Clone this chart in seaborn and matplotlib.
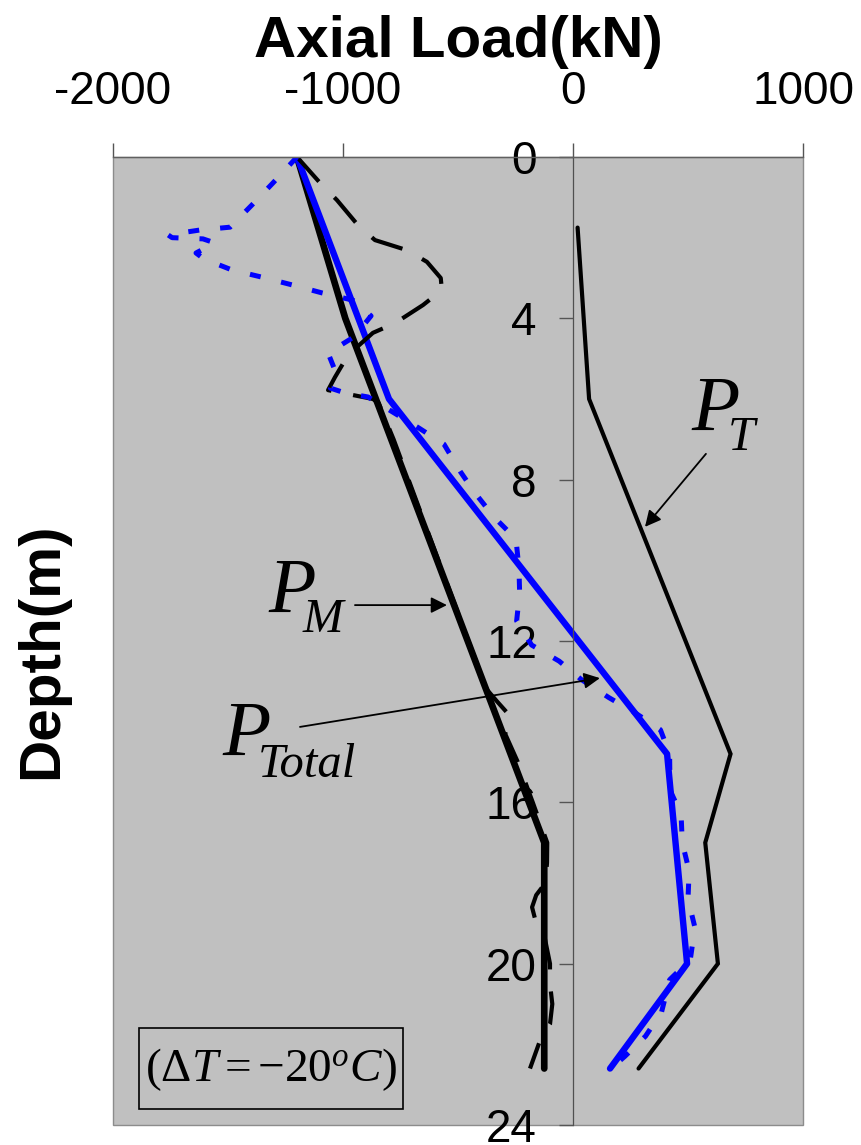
import matplotlib
matplotlib.use("Agg")
import matplotlib.pyplot as plt
import seaborn as sns
import pandas as pd
from matplotlib.patches import Rectangle

# Axial load profiles along the pile (load in kN, depth in m)
pt_depth = [1.75, 6.0, 14.8, 17.0, 20.0, 22.6]
pt_load = [20, 70, 685, 575, 630, 285]

pm_depth = [0.0, 4.0, 17.0, 22.6]
pm_load = [-1200, -990, -125, -125]

ptot_depth = [0.0, 6.0, 14.8, 20.0, 22.6]
ptot_load = [-1200, -800, 409, 496, 161]

pm_meas_depth = [0.0, 0.64, 1.07, 1.69, 2.06, 2.31, 2.6, 3.0, 3.3, 3.67, 4.12, 4.36,
                 4.91, 5.46, 5.78, 6.0, 6.1, 7.0, 8.0, 9.0, 10.0, 11.0, 12.0, 12.9,
                 13.2, 13.5, 13.85, 14.3, 15.0, 16.0, 17.0, 17.5, 18.0, 18.3, 18.6,
                 19.0, 19.3, 20.0, 20.5, 21.0, 21.5, 21.9, 22.6]
pm_meas_load = [-1200, -1100, -1026, -935, -861, -722, -635, -575, -570, -652, -774, -870,
                -978, -1035, -1065, -870, -845, -780, -715, -650, -585, -520, -455, -395,
                -375, -330, -275, -295, -240, -175, -112, -113, -120, -160, -178,
                -160, -125, -100, -100, -90, -100, -143, -187]

ptot_meas_depth = [0.0, 0.64, 1.19, 1.74, 1.81, 1.93, 2.0, 2.03, 2.13, 2.38, 2.53, 2.8,
                   2.98, 3.17, 3.37, 3.55, 3.94, 4.46, 4.86, 5.23, 5.73, 5.85, 5.95,
                   6.72, 7.12, 7.79, 8.33, 8.93, 9.47, 10.2, 10.8, 11.5, 12.1, 12.5,
                   12.95, 13.4, 13.8, 14.2, 14.8, 15.7, 16.3, 17.0, 17.7, 18.4, 19.1,
                   19.9, 20.4, 21.2, 21.8, 22.3, 22.6]
ptot_meas_load = [-1200, -1304, -1396, -1491, -1622, -1761, -1743, -1609, -1557, -1639, -1604, -1483,
                  -1352, -1222, -1091, -957, -878, -952, -1065, -1039, -1055, -991, -891,
                  -670, -561, -491, -426, -343, -248, -235, -232, -245, -180, -60,
                  35, 155, 275, 380, 420, 422, 470, 475, 505, 500, 530,
                  510, 420, 385, 315, 225, 165]

x_ticks = [-2000, -1000, 0, 1000]
x_ticklabels = ["-2000", "-1000", "0", "1000"]
y_ticks = [0, 4, 8, 12, 16, 20, 24]
y_ticklabels = ["0", "4", "8", "12", "16", "20", "24"]

sns.set_style("white")
plt.rcParams["font.family"] = ["Liberation Sans", "DejaVu Sans"]
plt.rcParams["mathtext.fontset"] = "custom"
plt.rcParams["mathtext.rm"] = "Liberation Serif"
plt.rcParams["mathtext.it"] = "Liberation Serif:italic"
plt.rcParams["text.color"] = "black"
plt.rcParams["axes.labelcolor"] = "black"
plt.rcParams["xtick.labelcolor"] = "black"
plt.rcParams["ytick.labelcolor"] = "black"

fig = plt.figure(figsize=(8.61, 11.45), dpi=100)
ax = fig.add_axes([113 / 861, 1 - 1125 / 1145, 690 / 861, 968 / 1145])
ax.set_facecolor("#c0c0c0")


def frame(load, depth):
    return pd.DataFrame({"load": load, "depth": depth})


common = dict(x="load", y="depth", sort=False, estimator=None, ax=ax, legend=False)

sns.lineplot(data=frame(pt_load, pt_depth), color="black", lw=3.0,
             solid_capstyle="round", solid_joinstyle="miter", **common)
sns.lineplot(data=frame(pm_load, pm_depth), color="black", lw=4.8,
             solid_capstyle="round", solid_joinstyle="round", **common)
sns.lineplot(data=frame(ptot_load, ptot_depth), color="#0000ff", lw=4.6,
             solid_capstyle="round", solid_joinstyle="round", **common)
sns.lineplot(data=frame(pm_meas_load, pm_meas_depth), color="black", lw=3.0,
             linestyle=(0, (7.9, 5.3)), dash_capstyle="butt", **common)
sns.lineplot(data=frame(ptot_meas_load, ptot_meas_depth), color="#0000ff", lw=3.6,
             linestyle=(0, (2.2, 4.2)), dash_capstyle="butt", **common)

ax.set_xlim(-2000, 1000)
ax.set_ylim(24, 0)
ax.set_xlabel("")
ax.set_ylabel("")

ax.xaxis.set_ticks_position("top")
ax.set_xticks(x_ticks)
ax.set_xticklabels(x_ticklabels)
ax.set_yticks(y_ticks)
ax.set_yticklabels(y_ticklabels)
ax.tick_params(axis="x", direction="out", length=10, width=1, color="#555555",
               pad=21, labelsize=33, labelcolor="black",
               top=True, bottom=False, labeltop=True, labelbottom=False)
ax.tick_params(axis="y", direction="out", length=10, width=1, color="#555555",
               pad=16, labelsize=33, labelcolor="black", left=True, right=False)

ax.spines["left"].set_position(("data", 0))
ax.spines["left"].set_color("#505050")
ax.spines["left"].set_linewidth(0.9)
ax.spines["top"].set_color("#606060")
ax.spines["top"].set_linewidth(1.0)
ax.spines["right"].set_visible(False)
ax.spines["bottom"].set_visible(False)
ax.add_patch(Rectangle((0, 0), 1, 1, transform=ax.transAxes, fill=False,
                       ec="#8c8c8c", lw=1.0, zorder=0.5, clip_on=False))

# Curve labels
serif_it = dict(family="Liberation Serif", style="italic", color="black")
ax.text(517, 6.77, "P", fontsize=57, ha="left", va="baseline", **serif_it)
ax.text(674, 7.27, "T", fontsize=35, ha="left", va="baseline", **serif_it)
ax.text(-1326, 11.28, "P", fontsize=56, ha="left", va="baseline", **serif_it)
ax.text(-1174, 11.78, "M", fontsize=35, ha="left", va="baseline", **serif_it)
ax.text(-1526, 14.83, "P", fontsize=57, ha="left", va="baseline", **serif_it)
ax.text(-1370, 15.37, "Total", fontsize=35, ha="left", va="baseline", **serif_it)

arrow = dict(arrowstyle="-|>", color="black", lw=1.3, mutation_scale=24,
             shrinkA=0, shrinkB=0)
ax.annotate("", xy=(313, 9.17), xytext=(578, 7.36), arrowprops=arrow)
ax.annotate("", xy=(-548, 11.11), xytext=(-948, 11.11), arrowprops=arrow)
ax.annotate("", xy=(117, 12.92), xytext=(-1187, 14.13), arrowprops=arrow)

# Temperature-change note in a framed box
ax.add_patch(Rectangle((-1887, 21.6), 1148, 2.0, fill=False, ec="black", lw=1.2, zorder=5))
ax.text(-1313, 22.62, r"$(\Delta T = {-}20^{o}C)$", fontsize=34, ha="center", va="center",
        zorder=6)

fig.text(458 / 861, 1 - 57 / 1145, "Axial Load(kN)", fontsize=42, fontweight="bold",
         ha="center", va="baseline")
fig.text(42 / 861, 1 - 651 / 1145, "Depth(m)", fontsize=42, fontweight="bold",
         rotation=90, ha="center", va="center")

fig.savefig("out.png", dpi=100)
